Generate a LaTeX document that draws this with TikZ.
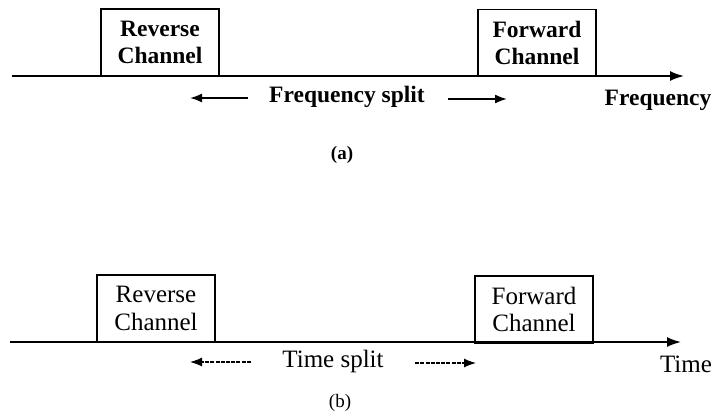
\documentclass[tikz,border=0pt]{standalone}
\usepackage{fontspec}
\setmainfont{Liberation Serif}
\usetikzlibrary{arrows.meta}
\begin{document}
\begin{tikzpicture}[x=1pt,y=-1pt,
  chan/.style={draw,line width=1.8pt,minimum width=118pt,minimum height=67pt,inner sep=0pt,align=center},
  fa/.style={font=\fontsize{23.5}{27}\selectfont\bfseries},
  fb/.style={font=\fontsize{25}{27.5}\selectfont},
  axis/.style={line width=1.8pt,-{Latex[length=14pt,width=10pt]}},
  split/.style={line width=1.8pt,-{Latex[length=12pt,width=9pt]}},
  splitb/.style={line width=1.2pt,dash pattern=on 4pt off 1.2pt,-{Latex[length=12pt,width=9pt]}},
  sublbl/.style={font=\fontsize{19}{20}\selectfont}]
\useasboundingbox (0,0) rectangle (714,418);
% ---- panel (a)
\coordinate (a0) at (12,76);
\coordinate (a1) at (684,76);
\node[chan,fa] (ra) at (160,42.5) {Reverse\\Channel};
\node[chan,fa] (fa) at (537,43) {Forward\\Channel};
\draw[axis] (a0) -- (a1);
\node[fa] (fs) at (347,97) {Frequency split};
\coordinate (al) at (190,98);
\coordinate (ar) at (507,99);
\draw[split] (fs.west) ++(-18,1) coordinate (alS) (alS) -- (al);
\draw[split] (fs.east) ++(20,2) coordinate (arS) (arS) -- (ar);
\node[fa] (fq) at (658,100) {Frequency};
\node[sublbl,font=\fontsize{19}{20}\selectfont\bfseries] (ca) at (342,155) {(a)};
% ---- panel (b)
\coordinate (b0) at (10,342);
\coordinate (b1) at (681,342);
\node[chan,fb] (rb) at (156,308.5) {Reverse\\Channel};
\node[chan,fb] (fb) at (534,309.5) {Forward\\Channel};
\draw[axis] (b0) -- (b1);
\node[fb] (ts) at (333,361) {Time split};
\coordinate (bl) at (190,362);
\coordinate (br) at (476,363);
\draw[splitb] (ts.west) ++(-28,1) coordinate (blS) (blS) -- (bl);
\draw[splitb] (ts.east) ++(28,2) coordinate (brS) (brS) -- (br);
\node[fb] (tm) at (686,364) {Time};
\node[sublbl] (cb) at (340,403) {(b)};
\end{tikzpicture}
\end{document}
